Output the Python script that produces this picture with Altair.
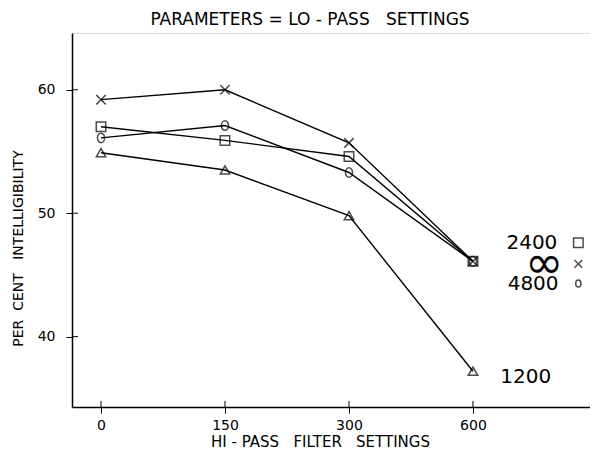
import altair as alt
import pandas as pd

hi_pass = ["0", "150", "300", "600"]
series_names = ["2400", "inf", "4800", "1200"]
X_PATH = "M-1,-1L1,1M-1,1L1,-1"
ELLIPSE = "M0,-1A0.75,1 0 1,1 0,1A0.75,1 0 1,1 0,-1Z"
shapes = ["square", X_PATH, ELLIPSE, "triangle-up"]
v_2400 = [57.0, 55.9, 54.6, 46.1]
v_inf = [59.2, 60.0, 55.7, 46.1]
v_4800 = [56.1, 57.1, 53.3, 46.1]
v_1200 = [54.9, 53.5, 49.8, 37.2]
y_ticks = [40, 50, 60]

# right-side labels
lab_text = ["2400", "\u221e", "4800", "1200"]
lab_x = [3.27, 3.42, 3.28, 3.22]
lab_y = [47.6, 45.9, 44.3, 36.7]
lab_size = [20, 46, 20, 20]
key_shapes = ["square", X_PATH, ELLIPSE]
key_y = [47.6, 45.9, 44.3]
key_size = [90, 60, 50]
key_x = 3.85

NB = "\u00a0"
title_txt = "PARAMETERS" + NB + "=" + NB + "LO" + NB + "-" + NB + "PASS" + NB * 3 + "SETTINGS"
x_title = "HI" + NB + "-" + NB + "PASS" + NB * 3 + "FILTER" + NB * 3 + "SETTINGS"
y_title = "PER" + NB * 2 + "CENT" + NB * 3 + "INTELLIGIBILITY"

rows = []
for name, shp, vals in zip(series_names, shapes, [v_2400, v_inf, v_4800, v_1200]):
    for i, v in enumerate(vals):
        rows.append({"series": name, "xi": i, "y": v, "shape": shp})
df = pd.DataFrame(rows)

labels = pd.DataFrame({"t": lab_text, "x": lab_x, "y": lab_y, "s": lab_size})
keys = pd.DataFrame({"x": [key_x] * 3, "y": key_y, "shape": key_shapes, "s": key_size})
ticks_y = pd.DataFrame({"y": y_ticks})
ticks_x = pd.DataFrame({"xi": list(range(len(hi_pass)))})

FONT = "DejaVu Sans"
xscale = alt.Scale(domain=[-0.234, 3.944], nice=False, zero=False)
yscale = alt.Scale(domain=[34.3, 64.6], nice=False, zero=False)

label_expr = "[" + ",".join("'" + h + "'" for h in hi_pass) + "][datum.value]"

base = alt.Chart(df)
lines = base.mark_line(color="black", strokeWidth=1.4).encode(
    x=alt.X("xi:Q", scale=xscale,
            axis=alt.Axis(values=[0, 1, 2, 3], labelExpr=label_expr, title=x_title,
                          grid=False, domainColor="black", tickColor="black", tickSize=6,
                          labelFontSize=14, labelColor="black", labelPadding=5, labelFont=FONT,
                          titleFont=FONT, titleFontSize=15, titleFontWeight="normal", titleColor="black",
                          titleX=248, titleY=34, titleBaseline="middle", domainWidth=1.5)),
    y=alt.Y("y:Q", scale=yscale,
            axis=alt.Axis(values=y_ticks, title=y_title, grid=False,
                          domainColor="black", tickColor="black", tickSize=6, labelFontSize=14,
                          labelColor="black", labelPadding=11, labelFont=FONT, titleFont=FONT,
                          titleFontSize=14, titleFontWeight="normal", titleColor="black",
                          titleX=-54, titleY=215, titleBaseline="middle", titleAngle=-90,
                          domainWidth=1.5)),
    detail="series:N",
)
points = base.mark_point(color="black", filled=False, strokeWidth=1.5, size=90).encode(
    x=alt.X("xi:Q", scale=xscale),
    y=alt.Y("y:Q", scale=yscale),
    shape=alt.Shape("shape:N", scale=None),
)
texts = alt.Chart(labels).mark_text(color="black", font=FONT, align="left", baseline="middle").encode(
    x=alt.X("x:Q", scale=xscale),
    y=alt.Y("y:Q", scale=yscale),
    text="t:N",
    size=alt.Size("s:Q", scale=None),
)
keypts = alt.Chart(keys).mark_point(color="black", filled=False, strokeWidth=1.5).encode(
    x=alt.X("x:Q", scale=xscale),
    y=alt.Y("y:Q", scale=yscale),
    shape=alt.Shape("shape:N", scale=None),
    size=alt.Size("s:Q", scale=None),
)
ytick_in = alt.Chart(ticks_y).mark_rule(color="black", strokeWidth=1).encode(
    y=alt.Y("y:Q", scale=yscale), x=alt.value(0), x2=alt.value(6)
)
xtick_in = alt.Chart(ticks_x).mark_rule(color="black", strokeWidth=1).encode(
    x=alt.X("xi:Q", scale=xscale), y=alt.value(374), y2=alt.value(368)
)

chart = alt.layer(lines, points, texts, keypts, ytick_in, xtick_in).properties(
    width=518, height=374,
    title=alt.TitleParams(title_txt, font=FONT, fontSize=17,
                          fontWeight="normal", color="black", anchor="middle", dx=-21, offset=4),
    autosize=alt.AutoSizeParams(type="none"),
    padding={"left": 64, "top": 25, "right": 0, "bottom": 43},
).configure_view(stroke="black", strokeWidth=1.5).configure(background="white")

chart.save("out.html", embed_options={"renderer": "svg", "actions": False})
